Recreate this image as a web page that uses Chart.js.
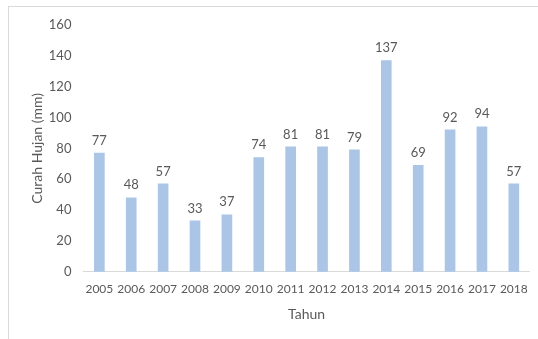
<!DOCTYPE html>
<html>
<head>
<meta charset="utf-8">
<script src="https://cdn.jsdelivr.net/npm/chart.js@4.4.0/dist/chart.umd.min.js"></script>
<style>
  html, body { margin: 0; padding: 0; background: #fff; overflow: hidden; }
  #frame { position: absolute; left: 8px; top: 6px; width: 540px; height: 340px; border: 1px solid #d9d9d9; }
  #wrap { position: absolute; left: 0; top: 0; width: 538px; height: 339px; }
</style>
</head>
<body>
<div id="frame"></div>
<div id="wrap"><canvas id="chart"></canvas></div>
<script>
// Curah hujan per tahun
const years = ['2005','2006','2007','2008','2009','2010','2011','2012','2013','2014','2015','2016','2017','2018'];
const rainfall = [77, 48, 57, 33, 37, 74, 81, 81, 79, 137, 69, 92, 94, 57];
const yTicks = [0, 20, 40, 60, 80, 100, 120, 140, 160];

const textColor = '#595959';
const fontFamily = 'Lato, "Open Sans", sans-serif';

// value labels above each bar
const barLabels = {
  id: 'barLabels',
  afterDatasetsDraw(chart){
    const ctx = chart.ctx;
    const meta = chart.getDatasetMeta(0);
    ctx.save();
    ctx.fillStyle = textColor;
    ctx.font = '13px ' + fontFamily;
    ctx.textAlign = 'center';
    ctx.textBaseline = 'bottom';
    meta.data.forEach((bar, i) => {
      ctx.fillText(String(rainfall[i]), bar.x, bar.y - 6);
    });
    ctx.restore();
  }
};

new Chart(document.getElementById('chart').getContext('2d'), {
  type: 'bar',
  data: {
    labels: years,
    datasets: [{ label: 'Curah Hujan', data: rainfall, backgroundColor: '#abc5e6', barThickness: 10 }]
  },
  options: {
    responsive: true,
    maintainAspectRatio: false,
    animation: false,
    layout: { padding: { top: 25, right: 7, bottom: 16, left: 29 } },
    plugins: { legend: { display: false }, tooltip: { enabled: false } },
    scales: {
      x: {
        grid: { display: false, drawTicks: false },
        border: { color: '#d9d9d9' },
        ticks: { color: textColor, font: { family: fontFamily, size: 12 }, padding: 10, maxRotation: 0, autoSkip: false },
        title: { display: true, text: 'Tahun', color: textColor, font: { family: fontFamily, size: 14 }, padding: { top: 0, bottom: 0 } }
      },
      y: {
        min: yTicks[0],
        max: yTicks[yTicks.length - 1],
        afterBuildTicks: axis => { axis.ticks = yTicks.map(v => ({ value: v })); },
        grid: { display: false, drawTicks: false },
        border: { display: false },
        ticks: { color: textColor, font: { family: fontFamily, size: 13 }, padding: 12 },
        title: { display: true, text: 'Curah Hujan (mm)', color: textColor, font: { family: fontFamily, size: 14 }, padding: { top: 0, bottom: -9 } }
      }
    }
  },
  plugins: [barLabels]
});
</script>
</body>
</html>
